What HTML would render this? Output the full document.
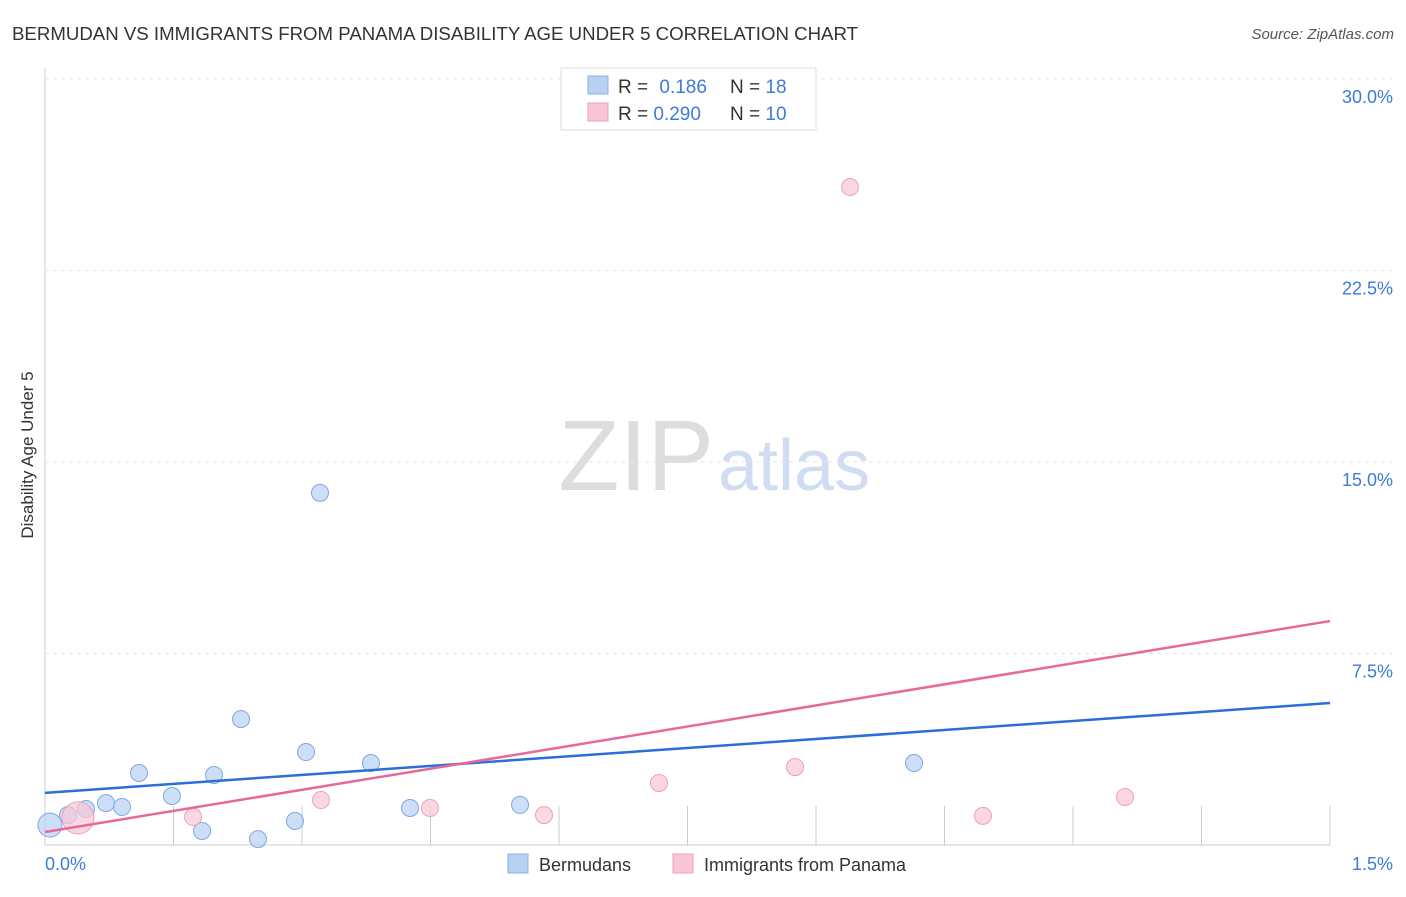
<!DOCTYPE html>
<html><head><meta charset="utf-8"><style>
body{margin:0;background:#fff;font-family:"Liberation Sans",sans-serif;}
svg text{font-family:"Liberation Sans",sans-serif;}
</style></head><body>
<svg id="chart" width="1406" height="892">
<text x="12" y="40" font-size="18" fill="#333" textLength="846" lengthAdjust="spacingAndGlyphs">BERMUDAN VS IMMIGRANTS FROM PANAMA DISABILITY AGE UNDER 5 CORRELATION CHART</text>
<text x="1394" y="39" font-size="15" fill="#555" font-style="italic" text-anchor="end">Source: ZipAtlas.com</text>
<text x="33" y="455" font-size="17" fill="#333" text-anchor="middle" transform="rotate(-90 33 455)">Disability Age Under 5</text>
<text x="714" y="490" font-size="100" fill="#ddd" text-anchor="end" font-family="Liberation Serif">ZIP</text>
<text x="718" y="490" font-size="72" fill="#cfdcf2">atlas</text>
<g id="grid"></g><g id="marks"></g>
<g>
<rect x="561" y="68" width="255" height="62" fill="#fff" stroke="#ddd"/>
<rect x="588" y="76" width="20" height="18" fill="#b8d1f3" stroke="#8ab0e6"/>
<text x="618" y="93" font-size="19" fill="#333">R = <tspan fill="#3d7bd9" dx="6">0.186</tspan></text>
<text x="730" y="93" font-size="19" fill="#333">N = <tspan fill="#3d7bd9">18</tspan></text>
<rect x="588" y="103" width="20" height="18" fill="#f9c6d5" stroke="#eea0b8"/>
<text x="618" y="120" font-size="19" fill="#333">R = <tspan fill="#3d7bd9">0.290</tspan></text>
<text x="730" y="120" font-size="19" fill="#333">N = <tspan fill="#3d7bd9">10</tspan></text>
</g>
<g>
<rect x="508" y="854" width="20" height="19" fill="#b8d1f3" stroke="#8ab0e6"/>
<text x="539" y="871" font-size="18" fill="#333">Bermudans</text>
<rect x="673" y="854" width="20" height="19" fill="#f9c6d5" stroke="#eea0b8"/>
<text x="704" y="871" font-size="18" fill="#333">Immigrants from Panama</text>
</g>
</svg>
<script>
const yTicks=[7.5,15,22.5,30];
const yTickLabels=["7.5%","15.0%","22.5%","30.0%"];
const xTickLabels=["0.0%","1.5%"];
const blueX=[0.0058,0.0268,0.0479,0.0712,0.0899,0.1097,0.1482,0.1833,0.1973,0.2288,0.2486,0.2918,0.3047,0.3210,0.3805,0.4261,0.5545,1.0144];
const blueY=[0.78,1.17,1.41,1.64,1.49,2.82,1.92,0.55,2.74,4.93,0.23,0.94,3.64,13.79,3.21,1.45,1.57,3.21];
const pinkX=[0.0385,0.1728,0.3222,0.4494,0.5825,0.7167,0.8755,0.9397,1.0949,1.2607];
const pinkY=[1.06,1.10,1.76,1.45,1.17,2.43,3.05,25.77,1.14,1.88];
const blueLine=[2.04,5.56];
const pinkLine=[0.51,8.77];
const X=v=>45+v/1.5*1285, Y=v=>845-v/7.5*191.5;
const NS="http://www.w3.org/2000/svg";
const grid=document.getElementById('grid'), marks=document.getElementById('marks');
function mk(tag,attrs,parent){const e=document.createElementNS(NS,tag);for(const k in attrs)e.setAttribute(k,attrs[k]);parent.appendChild(e);return e;}
let ax=mk('line',{x1:45,y1:68,x2:45,y2:845,stroke:'#ccc'},grid);


let bx=mk('line',{x1:45,y1:845,x2:1330,y2:845,stroke:'#ccc'},grid);


yTicks.forEach((t,i)=>{
 let g=mk('line',{x1:45,y1:Y(t),x2:1394,y2:Y(t),stroke:'#e4e4e4','stroke-dasharray':'4,4'},grid);
 
 
 let l=mk('text',{x:1393,y:Y(t)+24,'font-size':18,fill:'#3d7bd9','text-anchor':'end'},grid);
 l.textContent=yTickLabels[i];
 
 
});
for(let i=0;i<=10;i++){
 let v=i*0.15;
 let t=mk('line',{x1:X(v),y1:806,x2:X(v),y2:845,stroke:'#ccc'},grid);
 
 
}
[[0,45,'start'],[1.5,1393,'end']].forEach((d,i)=>{
 let l=mk('text',{x:d[1],y:870,'font-size':18,fill:'#3d7bd9','text-anchor':d[2]},grid);
 l.textContent=xTickLabels[i];
 
 
});
blueX.forEach((x,i)=>{
 let c=mk('circle',{cx:X(x),cy:Y(blueY[i]),r:i==0?12:8.5,fill:'#b8d1f3','fill-opacity':0.7,stroke:'#7fa8e3'},marks);
 
 
});
pinkX.forEach((x,i)=>{
 let c=mk('circle',{cx:X(x),cy:Y(pinkY[i]),r:i==0?16:8.5,fill:'#f9c6d5','fill-opacity':0.7,stroke:'#eea0b8'},marks);
 
 
});
let bl=mk('line',{x1:X(0),y1:Y(blueLine[0]),x2:X(1.5),y2:Y(blueLine[1]),stroke:'#2a6fd6','stroke-width':2.5},marks);


let pl=mk('line',{x1:X(0),y1:Y(pinkLine[0]),x2:X(1.5),y2:Y(pinkLine[1]),stroke:'#e8689a','stroke-width':2.5},marks);


</script>
</body></html>
